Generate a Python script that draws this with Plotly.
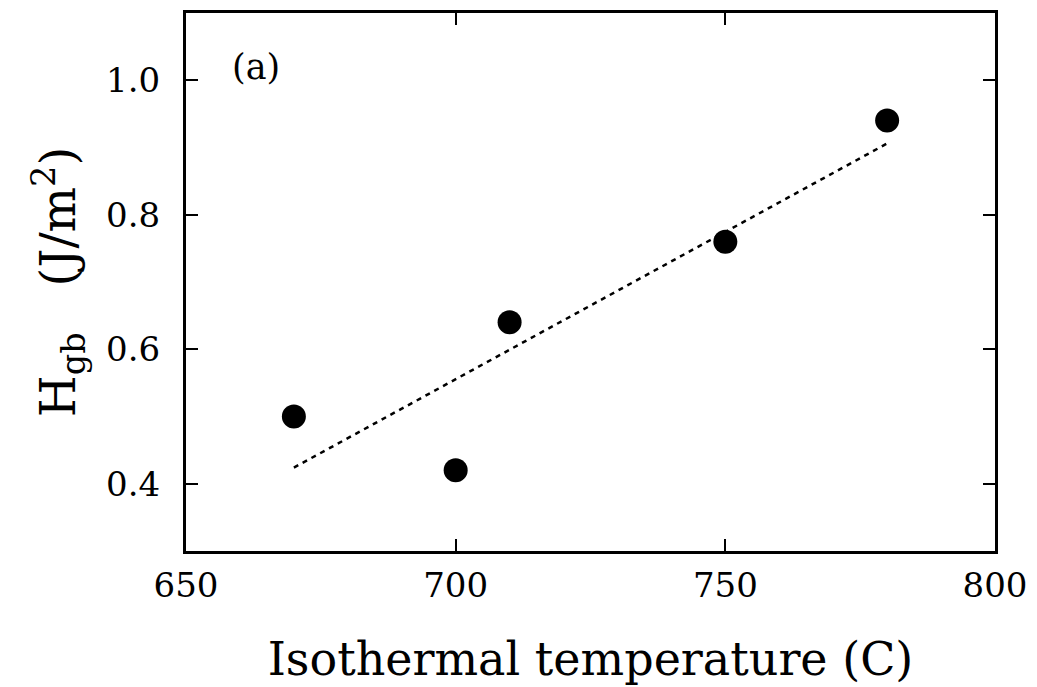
import plotly.graph_objects as go

temps = [670, 700, 710, 750, 780]
hgb = [0.50, 0.42, 0.64, 0.76, 0.94]
fit_x = [670, 780]
fit_y = [0.424, 0.906]
x_ticks = [650, 700, 750, 800]
y_ticks = [0.4, 0.6, 0.8, 1.0]

FONT = "DejaVu Serif"

fig = go.Figure()
fig.add_trace(go.Scatter(x=fit_x, y=fit_y, mode="lines",
                         line=dict(color="black", width=2.5, dash="5px,5px"),
                         showlegend=False))
fig.add_trace(go.Scatter(x=temps, y=hgb, mode="markers",
                         marker=dict(color="black", size=24),
                         showlegend=False))

axis_common = dict(showline=True, linewidth=3, linecolor="black", mirror="ticks",
                   ticks="inside", ticklen=12, tickwidth=2, tickcolor="black",
                   showgrid=False, zeroline=False,
                   tickfont=dict(family=FONT, size=34, color="black"))

fig.update_xaxes(range=[650, 800], tickvals=x_ticks, ticktext=[str(v) for v in x_ticks],
                 ticklabelstandoff=2,
                 title=dict(text="Isothermal temperature (C)",
                            font=dict(family=FONT, size=46, color="black"), standoff=40),
                 **axis_common)
fig.update_yaxes(range=[0.3, 1.1], tickvals=y_ticks, ticktext=["%.1f" % v for v in y_ticks],
                 ticklabelstandoff=16,
                 title=dict(text="H<sub>gb</sub>&nbsp;&nbsp; (J/m<sup>2</sup>)",
                            font=dict(family=FONT, size=48, color="black"), standoff=16),
                 **axis_common)

fig.add_annotation(x=0.054, y=0.90, xref="paper", yref="paper", text="(a)", showarrow=False,
                   xanchor="left", yanchor="middle",
                   font=dict(family=FONT, size=35, color="black"))

fig.update_layout(width=1037, height=687, margin=dict(l=186, r=37, t=10, b=134),
                  paper_bgcolor="white", plot_bgcolor="white")

fig.write_html("out.html")
